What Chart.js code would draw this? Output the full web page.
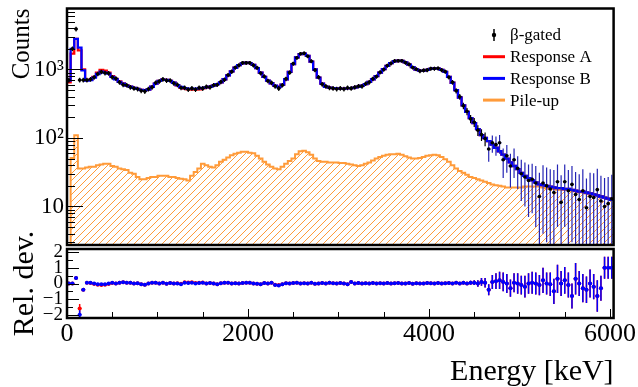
<!DOCTYPE html>
<html>
<head>
<meta charset="utf-8">
<script src="https://cdn.jsdelivr.net/npm/chart.js"></script>
<style>
  body { margin: 0; background: #fff; }
  #wrap { position: relative; width: 638px; height: 387px; }
  canvas { position: absolute; left: 0; top: 0; }
</style>
</head>
<body>
<div id="wrap">
  <canvas id="topChart" width="638" height="387"></canvas>
  <canvas id="bottomChart" width="638" height="387"></canvas>
</div>
<script>
// energy binning (keV), 151 bins of 40 keV
const binWidth = 40;
const energyTicks = [0, 2000, 4000, 6000];
const countTicks = [10, 100, 1000];
const relTicks = [-2, -1, 0, 1, 2];

const betaGated = [
  700, 2000, 3900, 700, 700, 700, 720, 770, 860, 920,
  890, 880, 770, 740, 650, 600, 590, 550, 530, 520,
  490, 480, 520, 550, 640, 670, 720, 690, 690, 630,
  600, 540, 540, 510, 530, 510, 540, 530, 560, 550,
  590, 600, 660, 710, 830, 930, 1070, 1150, 1250, 1250,
  1250, 1150, 1060, 880, 790, 680, 640, 570, 530, 590,
  730, 900, 1220, 1480, 1700, 1720, 1560, 1320, 980, 770,
  610, 570, 540, 530, 520, 530, 520, 540, 530, 550,
  570, 570, 620, 650, 730, 790, 910, 1000, 1140, 1230,
  1330, 1340, 1340, 1260, 1190, 1070, 1010, 950, 970, 980,
  1030, 1030, 1040, 980, 930, 770, 650, 490, 400, 295,
  245, 190, 170, 130, 112, 98, 69, 85, 80, 85,
  48, 55, 39, 48, 36, 30, 27, 24, 25, 22,
  14, 22, 20, 18, 16, 23, 11.5, 23, 17, 21,
  15, 12.6, 17, 9.6, 14, 13.5, 17.6, 12, 10, 11,
  13
];
const betaErr = [
  60, 160, 300, 55, 55, 55, 57, 60, 65, 70,
  70, 68, 60, 58, 52, 48, 46, 44, 42, 42,
  40, 40, 42, 44, 50, 52, 56, 55, 54, 50,
  48, 44, 43, 42, 42, 42, 43, 43, 44, 44,
  46, 47, 50, 55, 62, 68, 75, 80, 85, 85,
  85, 80, 75, 65, 60, 52, 50, 45, 43, 46,
  55, 65, 82, 95, 105, 105, 100, 88, 70, 58,
  48, 45, 43, 42, 41, 42, 41, 42, 42, 43,
  44, 45, 48, 50, 55, 58, 65, 70, 78, 82,
  88, 88, 88, 84, 80, 74, 70, 66, 67, 68,
  70, 70, 70, 68, 65, 56, 50, 42, 38, 32,
  30, 26, 25, 23, 22, 22, 24, 24, 25, 26,
  22, 24, 20, 22, 18, 18, 17, 17, 17, 17,
  17, 18, 17, 17, 18, 18, 17, 18, 17, 18,
  17, 17, 18, 16, 17, 17, 18, 16, 16, 16,
  16
];
const responseA = [
  650, 1700, 2800, 1900, 1000, 700, 710, 780, 900, 990,
  960, 900, 800, 730, 670, 625, 585, 560, 540, 520,
  505, 500, 510, 560, 620, 680, 710, 705, 680, 640,
  585, 545, 525, 515, 510, 510, 515, 530, 545, 560,
  580, 610, 650, 720, 820, 940, 1060, 1160, 1230, 1260,
  1240, 1170, 1050, 900, 780, 690, 630, 575, 560, 600,
  720, 920, 1200, 1500, 1680, 1700, 1580, 1300, 1000, 760,
  620, 560, 545, 535, 530, 525, 525, 530, 535, 545,
  560, 580, 610, 660, 720, 800, 900, 1010, 1130, 1240,
  1320, 1350, 1330, 1270, 1180, 1080, 1000, 960, 960, 990,
  1020, 1040, 1030, 990, 920, 780, 640, 500, 390, 300,
  240, 195, 165, 135, 110, 100, 90, 80, 72, 64,
  57, 50, 44, 39, 35, 31, 28, 26, 24, 22.5,
  21, 20.5, 20, 19.5, 19, 18.5, 18.5, 18, 18, 17.5,
  17, 16.5, 16.5, 16, 15.5, 15, 14.5, 14, 13.5, 13,
  12.5
];
const responseB = [
  690, 2000, 2800, 2080, 970, 690, 700, 760, 860, 930,
  900, 870, 780, 720, 660, 620, 580, 560, 540, 520,
  505, 500, 510, 560, 620, 680, 710, 705, 680, 640,
  590, 555, 535, 525, 525, 525, 530, 540, 550, 560,
  580, 610, 650, 720, 820, 940, 1060, 1160, 1230, 1260,
  1240, 1170, 1050, 900, 780, 690, 630, 580, 555, 600,
  720, 920, 1200, 1500, 1680, 1700, 1580, 1300, 1000, 760,
  620, 560, 545, 535, 530, 525, 525, 530, 535, 545,
  560, 580, 610, 660, 720, 800, 900, 1010, 1130, 1240,
  1320, 1350, 1330, 1270, 1180, 1080, 1000, 960, 960, 990,
  1020, 1040, 1030, 990, 920, 780, 640, 500, 390, 300,
  240, 195, 165, 135, 110, 100, 90, 80, 72, 64,
  57, 50, 44, 39, 35, 31, 28, 26, 24, 22.5,
  21, 20.5, 20, 19.5, 19, 18.5, 18.5, 18, 18, 17.5,
  17, 16.5, 16.5, 16, 15.5, 15, 14.5, 14, 13.5, 13,
  12.5
];
const pileUp = [
  1, 51, 110, 36, 36, 37, 38, 38, 40, 41,
  42, 42, 39, 38, 36, 35, 34, 31, 30, 27,
  25, 25, 26, 27, 27, 28, 28, 28, 27, 27,
  26, 25.5, 25, 24, 28, 32, 36, 42, 40, 38,
  37, 40, 45, 48, 52, 56, 59, 61, 63, 63,
  61, 60, 55, 50, 45, 41, 38, 36, 35, 38,
  42, 46, 50, 58, 64, 65, 62, 57, 50, 46,
  45, 45, 44, 44, 44, 43, 43, 42, 41, 40,
  39, 40, 42, 44, 47, 50, 53, 55, 57, 58,
  58, 59, 57, 54, 52, 50, 50, 51, 53, 55,
  56, 57, 56, 53, 49, 45, 40, 36, 33, 31,
  29, 27, 26, 25, 24, 23, 22, 21, 20.5, 20,
  19.5, 19, 19, 19, 19, 19, 19.5, 19.5, 19.5, 19.5,
  19.5, 19, 18.5, 18, 18, 17.5, 17.5, 17.5, 17.5, 17,
  16.5, 16, 16, 15.5, 15.5, 15, 14.5, 14, 13.5, 13,
  12.5
];
const relDevA = [
  0.0, 0.0, 0.35, -1.6, -0.4, 0.05, 0.03, -0.03, -0.08, -0.1,
  -0.08, -0.03, 0.03, 0.0, 0.05, 0.08, 0.05, 0.05, 0.0, 0.02,
  -0.05, -0.08, 0.0, 0.05, 0.05, 0.0, 0.05, -0.02, 0.03, 0.0,
  0.02, -0.02, 0.08, 0.06, 0.08, 0.03, 0.05, 0.06, 0.0, 0.03,
  0.0, -0.05, 0.02, 0.05, 0.05, 0.0, 0.02, 0.0, 0.03, 0.05,
  0.05, 0.0, -0.02, -0.05, 0.03, 0.0, 0.05, -0.08, -0.1, -0.05,
  0.02, 0.0, 0.03, 0.05, 0.0, 0.02, 0.0, 0.05, -0.02, 0.0,
  0.03, 0.0, 0.05, 0.02, 0.0, 0.03, 0.0, -0.05, 0.1, 0.0,
  0.03, 0.0, 0.02, 0.0, 0.03, 0.0, 0.02, 0.0, 0.03, 0.0,
  0.02, 0.03, 0.0, 0.0, 0.03, -0.02, 0.02, 0.0, 0.0, 0.03,
  0.02, 0.0, 0.03, 0.0, 0.02, 0.03, 0.0, 0.05, 0.0, 0.05,
  0.0, 0.05, 0.05, 0.0, 0.1, 0.05, -0.4, 0.1, 0.15, 0.2,
  0.1, 0.0, -0.3, 0.05, 0.0, -0.1, -0.2, 0.0, 0.05, 0.0,
  -0.1, 0.2, 0.0, -0.05, -0.5, 0.3, 0.0, 0.2, -0.1, -0.8,
  0.3, 0.0, -0.3, -0.4, 0.0, -0.2, -0.8, -0.3, 1.0, 1.0,
  1.0
];
const relDevB = [
  0.0, 0.0, 0.35, -2.0, -0.4, 0.05, 0.05, 0.0, -0.05, -0.05,
  -0.05, 0.0, 0.05, 0.0, 0.05, 0.08, 0.05, 0.05, 0.0, 0.02,
  -0.05, -0.08, 0.0, 0.05, 0.05, 0.0, 0.05, -0.02, 0.03, 0.0,
  0.0, -0.05, 0.05, 0.03, 0.05, 0.0, 0.03, 0.05, 0.0, 0.03,
  0.0, -0.05, 0.02, 0.05, 0.05, 0.0, 0.02, 0.0, 0.03, 0.05,
  0.05, 0.0, -0.02, -0.05, 0.03, 0.0, 0.05, -0.1, -0.12, -0.05,
  0.02, 0.0, 0.03, 0.05, 0.0, 0.02, 0.0, 0.05, -0.02, 0.0,
  0.03, 0.0, 0.05, 0.02, 0.0, 0.03, 0.0, -0.05, 0.1, 0.0,
  0.03, 0.0, 0.02, 0.0, 0.03, 0.0, 0.02, 0.0, 0.03, 0.0,
  0.02, 0.03, 0.0, 0.0, 0.03, -0.02, 0.02, 0.0, 0.0, 0.03,
  0.02, 0.0, 0.03, 0.0, 0.02, 0.03, 0.0, 0.05, 0.0, 0.05,
  0.0, 0.05, 0.05, 0.0, 0.1, 0.05, -0.4, 0.1, 0.15, 0.2,
  0.1, 0.0, -0.3, 0.05, 0.0, -0.1, -0.2, 0.0, 0.05, 0.0,
  -0.1, 0.2, 0.0, -0.05, -0.5, 0.3, 0.0, 0.2, -0.1, -0.8,
  0.3, 0.0, -0.3, -0.4, 0.0, -0.2, -0.8, -0.3, 1.0, 1.0,
  1.0
];
const relErr = [
  0.08, 0.08, 0.1, 0.3, 0.08, 0.07, 0.07, 0.07, 0.07, 0.07,
  0.07, 0.07, 0.07, 0.07, 0.08, 0.08, 0.08, 0.08, 0.08, 0.08,
  0.08, 0.08, 0.08, 0.08, 0.08, 0.08, 0.07, 0.07, 0.07, 0.08,
  0.08, 0.08, 0.08, 0.08, 0.08, 0.08, 0.08, 0.08, 0.08, 0.08,
  0.08, 0.08, 0.08, 0.07, 0.07, 0.07, 0.06, 0.06, 0.06, 0.06,
  0.06, 0.06, 0.07, 0.07, 0.07, 0.08, 0.08, 0.08, 0.08, 0.08,
  0.08, 0.07, 0.06, 0.06, 0.06, 0.06, 0.06, 0.06, 0.07, 0.08,
  0.08, 0.08, 0.08, 0.08, 0.08, 0.08, 0.08, 0.08, 0.08, 0.08,
  0.08, 0.08, 0.08, 0.08, 0.08, 0.07, 0.07, 0.07, 0.06, 0.06,
  0.06, 0.06, 0.06, 0.06, 0.06, 0.07, 0.07, 0.07, 0.07, 0.07,
  0.07, 0.07, 0.07, 0.07, 0.07, 0.07, 0.08, 0.08, 0.09, 0.1,
  0.1, 0.12, 0.15, 0.2, 0.25, 0.3, 0.35, 0.45, 0.5, 0.55,
  0.6, 0.6, 0.55, 0.6, 0.65, 0.6, 0.7, 0.65, 0.7, 0.7,
  0.65, 0.8, 0.7, 0.75, 0.8, 0.9, 0.8, 0.85, 0.8, 0.8,
  1.0, 0.8, 0.9, 0.85, 0.9, 0.8, 1.0, 0.8, 0.7, 0.7,
  0.7
];

const binLow = responseB.map((_, i) => i * binWidth);
const eMax = binLow[binLow.length - 1] + binWidth;

const serif = '"Liberation Serif", "Times New Roman", serif';
const red = '#ff0000';
const blue = '#0000ff';
const orange = '#ff9b3a';

// step histogram: each bin gives its two edges at the bin value
function histo(values) {
  const pts = [];
  values.forEach((v, i) => {
    pts.push({x: binLow[i], y: v}, {x: binLow[i] + binWidth, y: v});
  });
  return pts;
}
// markers at bin centres
function points(values) {
  return values.map((v, i) => ({x: binLow[i] + binWidth / 2, y: v}));
}

function hatch(color) {
  const s = 7;
  const c = document.createElement('canvas');
  c.width = s; c.height = s;
  const g = c.getContext('2d');
  g.strokeStyle = color;
  g.lineWidth = 1;
  g.beginPath();
  g.moveTo(0, s); g.lineTo(s, 0);
  g.moveTo(-1, 1); g.lineTo(1, -1);
  g.moveTo(s - 1, s + 1); g.lineTo(s + 1, s - 1);
  g.stroke();
  return g.createPattern(c, 'repeat');
}

// vertical error bars + bin-width bars, drawn just before the markers
const errorBars = {
  id: 'errorBars',
  beforeDatasetDraw(chart, args) {
    const ds = chart.data.datasets[args.index];
    if (!ds.errors) return;
    const {ctx, chartArea: a} = chart;
    const xs = chart.scales.x, ys = chart.scales.y;
    ctx.save();
    ctx.beginPath();
    ctx.rect(a.left, a.top, a.right - a.left, a.bottom - a.top);
    ctx.clip();
    ctx.lineWidth = ds.errorWidth || 1;
    ds.data.forEach((p, i) => {
      const e = ds.errors[i];
      const x = xs.getPixelForValue(p.x);
      const y = ys.getPixelForValue(p.y);
      const yHi = ys.getPixelForValue(p.y + e);
      const lo = p.y - e;
      const yLo = (ys.type === 'logarithmic' && lo <= ys.min) ? a.bottom + 2 : ys.getPixelForValue(lo);
      ctx.strokeStyle = (ds.bigErrorColor && e > 0.25 * p.y) ? ds.bigErrorColor : ds.errorColor;
      ctx.beginPath();
      ctx.moveTo(x, yHi); ctx.lineTo(x, yLo);
      ctx.moveTo(xs.getPixelForValue(p.x - binWidth / 2), y);
      ctx.lineTo(xs.getPixelForValue(p.x + binWidth / 2), y);
      ctx.stroke();
    });
    ctx.restore();
  }
};

const topFrame = {
  id: 'topFrame',
  afterDraw(chart) {
    const {ctx, chartArea: a} = chart;
    const ys = chart.scales.y;
    ctx.save();
    ctx.strokeStyle = '#000';
    ctx.lineWidth = 1;
    ctx.beginPath();
    for (let d = 1; d <= 1000; d *= 10) {
      for (let m = 1; m <= 9; m++) {
        const v = m * d;
        if (v < ys.min || v > ys.max) continue;
        const y = Math.round(ys.getPixelForValue(v)) + 0.5;
        ctx.moveTo(a.left, y);
        ctx.lineTo(a.left + (m === 1 ? 16 : 8), y);
      }
    }
    ctx.stroke();
    ctx.lineWidth = 2.5;
    ctx.strokeRect(a.left, a.top, a.right - a.left, a.bottom - a.top);

    // legend
    const rows = ['β-gated', 'Response A', 'Response B', 'Pile-up'];
    ctx.font = '17px ' + serif;
    ctx.textBaseline = 'middle';
    ctx.textAlign = 'left';
    rows.forEach((label, r) => {
      const ds = chart.data.datasets.find(d => d.label === label);
      const y = 35 + r * 21.7;
      if (ds.showLine === false) {
        ctx.strokeStyle = '#000';
        ctx.lineWidth = 1.5;
        ctx.beginPath();
        ctx.moveTo(494, y - 6); ctx.lineTo(494, y + 6);
        ctx.stroke();
        ctx.fillStyle = '#000';
        ctx.beginPath();
        ctx.arc(494, y, 2.2, 0, 2 * Math.PI);
        ctx.fill();
      } else {
        ctx.strokeStyle = ds.borderColor;
        ctx.lineWidth = 3;
        ctx.beginPath();
        ctx.moveTo(483, y); ctx.lineTo(505, y);
        ctx.stroke();
      }
      ctx.fillStyle = '#000';
      ctx.fillText(label, 510, y + 1);
    });
    ctx.restore();
  }
};

const bottomFrame = {
  id: 'bottomFrame',
  afterDraw(chart) {
    const {ctx, chartArea: a} = chart;
    const xs = chart.scales.x, ys = chart.scales.y;
    ctx.save();
    ctx.strokeStyle = '#000';
    ctx.lineWidth = 1;
    ctx.beginPath();
    for (let v = -2; v <= 2; v += 0.5) {
      const y = Math.round(ys.getPixelForValue(v)) + 0.5;
      ctx.moveTo(a.left, y);
      ctx.lineTo(a.left + (Number.isInteger(v) ? 12 : 6), y);
    }
    for (let e = 0; e <= 6000; e += 500) {
      const x = Math.round(xs.getPixelForValue(e)) + 0.5;
      ctx.moveTo(x, a.bottom);
      ctx.lineTo(x, a.bottom - (e % 2000 === 0 ? 9 : 6));
    }
    ctx.stroke();
    ctx.lineWidth = 2.5;
    ctx.strokeRect(a.left, a.top, a.right - a.left, a.bottom - a.top);
    ctx.restore();
  }
};

function fixWidth(w) {
  return s => { s.width = w; s.paddingTop = 0; s.paddingBottom = 0; };
}
function fixHeight(h) {
  return s => { s.height = h; s.paddingLeft = 0; s.paddingRight = 0; };
}

new Chart("topChart", {
  type: "line",
  data: {
    datasets: [{
      label: 'β-gated',
      data: points(betaGated),
      errors: betaErr,
      errorColor: '#000',
      bigErrorColor: '#2424b4',
      errorWidth: 1.2,
      showLine: false,
      pointRadius: 1.8,
      pointBackgroundColor: '#000',
      pointBorderWidth: 0,
      order: 1
    }, {
      label: 'Response A',
      data: histo(responseA),
      borderColor: red,
      borderWidth: 2.3,
      pointRadius: 0,
      fill: false,
      order: 3
    }, {
      label: 'Response B',
      data: histo(responseB),
      borderColor: blue,
      borderWidth: 2.3,
      pointRadius: 0,
      fill: false,
      order: 2
    }, {
      label: 'Pile-up',
      data: histo(pileUp),
      borderColor: orange,
      borderWidth: 2,
      pointRadius: 0,
      backgroundColor: hatch(orange),
      fill: 'start',
      order: 4
    }]
  },
  options: {
    responsive: false,
    animation: false,
    events: [],
    layout: {padding: {top: 8.5, right: 24.4, left: 0, bottom: 0}},
    plugins: {legend: {display: false}, tooltip: {enabled: false}},
    scales: {
      x: {
        type: 'linear', min: 0, max: eMax,
        ticks: {display: false},
        grid: {display: false, drawTicks: false},
        border: {display: false},
        afterFit: fixHeight(142)
      },
      y: {
        type: 'logarithmic', min: 2.74, max: 7770,
        afterBuildTicks: s => { s.ticks = countTicks.map(v => ({value: v})); },
        ticks: {
          autoSkip: false,
          padding: 3,
          color: '#000',
          font: {family: serif, size: 23},
          callback: v => v === 1000 ? '10³' : v === 100 ? '10²' : String(v)
        },
        grid: {display: false, drawTicks: false},
        border: {display: false},
        title: {display: true, text: 'Counts', align: 'end', color: '#000',
                font: {family: serif, size: 25}, padding: {top: 7, bottom: 0}},
        afterFit: fixWidth(67)
      }
    }
  },
  plugins: [errorBars, topFrame]
});

new Chart("bottomChart", {
  type: "line",
  data: {
    datasets: [{
      label: 'Response A',
      data: points(relDevA),
      errors: relErr,
      errorColor: red,
      errorWidth: 1.5,
      showLine: false,
      pointRadius: 2,
      pointBackgroundColor: red,
      pointBorderWidth: 0,
      order: 2
    }, {
      label: 'Response B',
      data: points(relDevB),
      errors: relErr,
      errorColor: blue,
      errorWidth: 1.5,
      showLine: false,
      pointRadius: 2,
      pointBackgroundColor: blue,
      pointBorderWidth: 0,
      order: 1
    }]
  },
  options: {
    responsive: false,
    animation: false,
    events: [],
    layout: {padding: {top: 249, right: 24.4, left: 0, bottom: 0}},
    plugins: {legend: {display: false}, tooltip: {enabled: false}},
    scales: {
      x: {
        type: 'linear', min: 0, max: eMax,
        afterBuildTicks: s => { s.ticks = energyTicks.map(v => ({value: v})); },
        ticks: {autoSkip: false, maxRotation: 0, padding: 1, color: '#000',
                font: {family: serif, size: 26}, callback: v => String(v)},
        grid: {display: false, drawTicks: false},
        border: {display: false},
        title: {display: true, text: 'Energy [keV]', align: 'end', color: '#000',
                font: {family: serif, size: 30, lineHeight: 1}, padding: {top: 0, bottom: 0}},
        afterFit: fixHeight(69)
      },
      y: {
        type: 'linear', min: -2.2, max: 2.2,
        afterBuildTicks: s => { s.ticks = relTicks.map(v => ({value: v})); },
        ticks: {autoSkip: false, padding: 4, color: '#000',
                font: {family: serif, size: 19},
                callback: v => v < 0 ? '−' + Math.abs(v) : String(v)},
        grid: {display: false, drawTicks: false},
        border: {display: false},
        title: {display: true, text: 'Rel. dev.', align: 'center', color: '#000',
                font: {family: serif, size: 30}, padding: {top: 7, bottom: 0}},
        afterFit: fixWidth(67)
      }
    }
  },
  plugins: [errorBars, bottomFrame]
});
</script>
</body>
</html>
